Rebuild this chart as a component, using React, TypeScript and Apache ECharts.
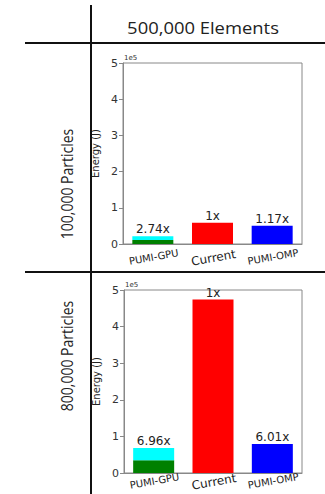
import React, { useEffect, useRef } from "react";
import * as echarts from "echarts";

const categories = ["PUMI-GPU", "Current", "PUMI-OMP"];
const yTickLabels = ["0", "1", "2", "3", "4", "5"];
const yScale = 100000;

const p100Base = [11000, 59000, 50500];
const p100Top = [10500, 0, 0];
const p100Speedup = ["2.74x", "1x", "1.17x"];

const p800Base = [34500, 474000, 78900];
const p800Top = [33600, 0, 0];
const p800Speedup = ["6.96x", "1x", "6.01x"];

const baseColors = ["#008000", "#ff0000", "#0000ff"];
const topColor = "#00ffff";

const columnTitle = "500,000 Elements";
const rowTitles = ["100,000 Particles", "800,000 Particles"];

export default function App() {
  const ref = useRef<HTMLDivElement>(null);
  useEffect(() => {
    if (!ref.current) return;
    const chart = echarts.init(ref.current, null, { renderer: "svg" });
    const grids = [
      { left: 123, right: 23, top: 63, height: 181 },
      { left: 124, right: 23, top: 290, height: 183 },
    ];
    const labelMargins = [8, 3];
    const datasets = [
      { base: p100Base, top: p100Top, speedup: p100Speedup },
      { base: p800Base, top: p800Top, speedup: p800Speedup },
    ];
    const labelStyle = {
      show: true,
      position: "top" as const,
      fontSize: 12,
      fontFamily: "DejaVu Sans",
      color: "#222",
      distance: 1,
    };
    const series: any[] = [];
    datasets.forEach((d, i) => {
      series.push({
        type: "bar",
        xAxisIndex: i,
        yAxisIndex: i,
        stack: "s" + i,
        barWidth: 41,
        label: { ...labelStyle, formatter: (p: any) => d.speedup[p.dataIndex] },
        data: d.base.map((v, j) => ({
          value: v,
          itemStyle: { color: baseColors[j] },
          label: { show: d.top[j] === 0 },
        })),
      });
      series.push({
        type: "bar",
        xAxisIndex: i,
        yAxisIndex: i,
        stack: "s" + i,
        barWidth: 41,
        itemStyle: { color: topColor },
        label: { ...labelStyle, formatter: (p: any) => d.speedup[p.dataIndex] },
        data: d.top.map((v) => (v > 0 ? v : "-")),
      });
    });
    const line = (x1: number, y1: number, x2: number, y2: number) => ({
      type: "line",
      shape: { x1, y1, x2, y2 },
      style: { stroke: "#111", lineWidth: 2 },
      z: 100,
    });
    const rowLabel = (text: string, y: number) => ({
      type: "text",
      x: 66,
      y,
      rotation: Math.PI / 2,
      scaleY: 1.2,
      style: {
        text,
        fontSize: 14,
        fontFamily: "Open Sans",
        fill: "#222",
        textAlign: "center",
        textVerticalAlign: "middle",
      },
    });
    const categoryData = categories.map((c) =>
      c === "Current"
        ? { value: c, textStyle: { fontSize: 12, align: "center", verticalAlign: "top" } }
        : c
    );
    chart.setOption({
      animation: false,
      backgroundColor: "#fff",
      grid: grids.map((g) => ({
        ...g,
        show: true,
        outerBoundsMode: "none",
        containLabel: false,
        borderColor: "#888",
        borderWidth: 1,
        backgroundColor: "#fff",
      })),
      xAxis: grids.map((_, i) => ({
        type: "category",
        gridIndex: i,
        data: categoryData,
        axisLine: { lineStyle: { color: "#888" } },
        axisTick: { alignWithLabel: true, length: 4, lineStyle: { color: "#888" } },
        axisLabel: {
          rotate: 10,
          align: "center",
          verticalAlign: "top",
          fontSize: 10,
          fontFamily: "DejaVu Sans",
          color: "#222",
          margin: labelMargins[i],
          interval: 0,
        },
      })),
      yAxis: grids.map((_, i) => ({
        type: "value",
        gridIndex: i,
        min: 0,
        max: 5 * yScale,
        interval: yScale,
        name: "Energy (J)",
        nameLocation: "middle",
        nameGap: 18,
        nameTextStyle: { fontSize: 10, fontFamily: "DejaVu Sans", color: "#222" },
        splitLine: { show: false },
        axisLine: { show: true, lineStyle: { color: "#888" } },
        axisTick: { show: true, length: 4, lineStyle: { color: "#888" } },
        axisLabel: {
          fontSize: 11,
          fontFamily: "DejaVu Sans",
          color: "#333",
          margin: 5,
          formatter: (v: number) => yTickLabels[Math.round(v / yScale)],
        },
      })),
      series,
      graphic: [
        line(91, 5, 91, 494),
        line(25, 43, 325, 43),
        line(25, 272, 325, 272),
        {
          type: "text",
          x: 203,
          y: 28,
          scaleX: 1.15,
          style: {
            text: columnTitle,
            fontSize: 16,
            fontFamily: "Open Sans",
            fill: "#222",
            textAlign: "center",
            textVerticalAlign: "middle",
          },
        },
        rowLabel(rowTitles[0], 184),
        rowLabel(rowTitles[1], 356),
        {
          type: "text",
          x: 124,
          y: 58,
          style: { text: "1e5", fontSize: 7, fontFamily: "DejaVu Sans", fill: "#333", textVerticalAlign: "middle" },
        },
        {
          type: "text",
          x: 125,
          y: 285,
          style: { text: "1e5", fontSize: 7, fontFamily: "DejaVu Sans", fill: "#333", textVerticalAlign: "middle" },
        },
      ],
    });
    return () => chart.dispose();
  }, []);
  return (
    <div
      ref={ref}
      style={{ position: "fixed", left: 0, top: 0, width: 325, height: 494 }}
    />
  );
}
